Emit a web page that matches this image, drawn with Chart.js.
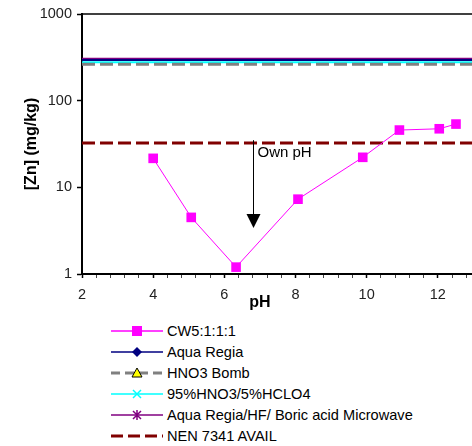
<!DOCTYPE html>
<html>
<head>
<meta charset="utf-8">
<script src="https://cdn.jsdelivr.net/npm/chart.js@4"></script>
<style>
  html, body { margin: 0; padding: 0; background: #fff; overflow: hidden; }
  #wrap { position: relative; width: 472px; height: 446px; overflow: hidden; }
  #zn { position: absolute; left: 0; top: 0; }
  #legend { position: absolute; left: 111px; top: 320px; font: 14.6px "Liberation Sans", Arial, sans-serif; color: #000; }
  .row { display: flex; align-items: center; height: 21px; white-space: nowrap; }
  .row svg { width: 52px; height: 14px; margin-right: 4px; flex: none; }
</style>
</head>
<body>
<div id="wrap">
  <canvas id="zn" width="530" height="312"></canvas>
  <div id="legend"></div>
</div>
<script>
// ===== DATA =====
const phValues = [4.0, 5.07, 6.33, 8.07, 9.89, 10.92, 12.04, 12.51];
const cw5Zn = [21.6, 4.5, 1.2, 7.3, 22.2, 45.8, 47.4, 53.7];
const levelPh = [2, 14];
const aquaRegia = [294, 294];
const hno3Bomb = [264, 264];
const hclo4 = [277, 277];
const microwave = [304, 304];
const nenAvail = [32.4, 32.4];
const xTickLabels = [2, 4, 6, 8, 10, 12];
const yTickLabels = [1, 10, 100, 1000];
const ownPh = 6.81;      // pH of the arrow
const ownPhFrom = 35;    // arrow top, mg/kg
const ownPhTo = 3.4;     // arrow tip, mg/kg

const FONT = '"Liberation Sans", Arial, sans-serif';
const pts = (xs, ys) => xs.map((x, i) => ({ x, y: ys[i] }));
const isMajor = v => xTickLabels.some(t => Math.abs(t - v) < 1e-6);

// ===== DATASETS =====
const flat = (label, ys, color, width, dash, marker) => ({
  label, data: pts(levelPh, ys), showLine: true, borderColor: color, backgroundColor: color,
  borderWidth: width, borderDash: dash, pointRadius: 0, marker
});

const datasets = [
  {
    label: 'CW5:1:1:1', data: pts(phValues, cw5Zn), showLine: true,
    borderColor: '#ff00ff', backgroundColor: '#ff00ff', borderWidth: 1,
    pointStyle: 'rect', pointRadius: 6.8, pointBorderWidth: 0, marker: 'rect'
  },
  flat('Aqua Regia', aquaRegia, '#000080', 2, [], 'diamond'),
  flat('HNO3 Bomb', hno3Bomb, '#808080', 3, [13, 5], 'triangle'),
  flat('95%HNO3/5%HCLO4', hclo4, '#00ffff', 2, [], 'cross'),
  flat('Aqua Regia/HF/ Boric acid Microwave', microwave, '#800080', 2, [], 'star'),
  flat('NEN 7341 AVAIL', nenAvail, '#800000', 3, [13, 5], null)
];

// ===== EXTRA DRAWING (top border, arrow, x title) =====
const extras = {
  id: 'extras',
  afterDraw(chart) {
    const { ctx, chartArea, scales: { x, y } } = chart;
    ctx.save();
    ctx.strokeStyle = '#000';
    ctx.lineWidth = 1.5;
    ctx.beginPath();
    ctx.moveTo(chartArea.left, chartArea.top);
    ctx.lineTo(chartArea.right, chartArea.top);
    ctx.stroke();

    const ax = Math.round(x.getPixelForValue(ownPh)) + 0.5;
    const y0 = y.getPixelForValue(ownPhFrom);
    const y1 = y.getPixelForValue(ownPhTo);
    ctx.lineWidth = 1;
    ctx.beginPath();
    ctx.moveTo(ax, y0);
    ctx.lineTo(ax, y1 - 10);
    ctx.stroke();
    ctx.fillStyle = '#000';
    ctx.beginPath();
    ctx.moveTo(ax - 7, y1 - 14);
    ctx.lineTo(ax + 7, y1 - 14);
    ctx.lineTo(ax, y1);
    ctx.closePath();
    ctx.fill();
    ctx.font = '15px ' + FONT;
    ctx.textBaseline = 'middle';
    ctx.fillText('Own pH', ax + 4, y0 + 13);

    ctx.font = 'bold 16px ' + FONT;
    ctx.textAlign = 'center';
    ctx.textBaseline = 'alphabetic';
    const cx = (x.getPixelForValue(xTickLabels[0]) + x.getPixelForValue(xTickLabels[xTickLabels.length - 1])) / 2;
    ctx.fillText('pH', cx, 307);
    ctx.restore();
  }
};

const chart = new Chart(document.getElementById('zn'), {
  type: 'scatter',
  data: { datasets },
  options: {
    responsive: false,
    animation: false,
    layout: { padding: { left: 0, top: 14, right: 21, bottom: 0 } },
    plugins: { legend: { display: false }, tooltip: { enabled: false } },
    scales: {
      x: {
        type: 'linear', min: 2, max: 14,
        afterFit: s => { s.height = 38; },
        ticks: {
          stepSize: 0.4, autoSkip: false, maxRotation: 0, padding: 8,
          color: '#222', font: { size: 14.5, family: FONT },
          callback: v => (isMajor(v) ? String(Math.round(v)) : '')
        },
        grid: {
          drawOnChartArea: false, tickLength: 4,
          tickColor: c => (c.tick && isMajor(c.tick.value) ? '#000' : '#444'),
          tickWidth: c => (c.tick && isMajor(c.tick.value) ? 1.5 : 1)
        },
        border: { color: '#000', width: 2 }
      },
      y: {
        type: 'logarithmic', min: 1, max: 1000,
        afterBuildTicks: s => { s.ticks = yTickLabels.map(v => ({ value: v })); },
        afterFit: s => { s.width = 82; },
        ticks: { color: '#222', padding: 5, font: { size: 14.5, family: FONT }, callback: v => String(v) },
        grid: { drawOnChartArea: false, tickLength: 5, tickColor: '#000', tickWidth: 1.5 },
        border: { color: '#000', width: 2 },
        title: {
          display: true, text: '[Zn] (mg/kg)', color: '#000', padding: { top: 22 },
          font: { size: 16, weight: 'bold', family: FONT }
        }
      }
    }
  },
  plugins: [extras]
});

// ===== LEGEND =====
function markerSvg(kind, c) {
  const cx = 26, cy = 7;
  if (kind === 'rect') return `<rect x="${cx - 5}" y="${cy - 5}" width="10" height="10" fill="${c}"/>`;
  if (kind === 'diamond') return `<polygon points="${cx},${cy - 5} ${cx + 5},${cy} ${cx},${cy + 5} ${cx - 5},${cy}" fill="${c}"/>`;
  if (kind === 'triangle') return `<polygon points="${cx},${cy - 5} ${cx + 5},${cy + 4} ${cx - 5},${cy + 4}" fill="#ffff00" stroke="#000" stroke-width="1"/>`;
  if (kind === 'cross') return `<path d="M${cx - 4} ${cy - 4}L${cx + 4} ${cy + 4}M${cx + 4} ${cy - 4}L${cx - 4} ${cy + 4}" stroke="${c}" stroke-width="1.5"/>`;
  if (kind === 'star') return `<path d="M${cx - 4} ${cy - 4}L${cx + 4} ${cy + 4}M${cx + 4} ${cy - 4}L${cx - 4} ${cy + 4}M${cx} ${cy - 5}L${cx} ${cy + 5}" stroke="${c}" stroke-width="1.5"/>`;
  return '';
}

document.getElementById('legend').innerHTML = chart.data.datasets.map(ds => {
  const dashed = ds.borderDash && ds.borderDash.length;
  const dash = dashed ? `stroke-dasharray="${ds.marker ? '9 5' : '12 5'}"` : '';
  const lw = dashed ? 3 : 1.5;
  return `<div class="row"><svg viewBox="0 0 52 14">
    <line x1="0" y1="7" x2="52" y2="7" stroke="${ds.borderColor}" stroke-width="${lw}" ${dash}/>
    ${markerSvg(ds.marker, ds.borderColor)}</svg><span>${ds.label}</span></div>`;
}).join('');
</script>
</body>
</html>
